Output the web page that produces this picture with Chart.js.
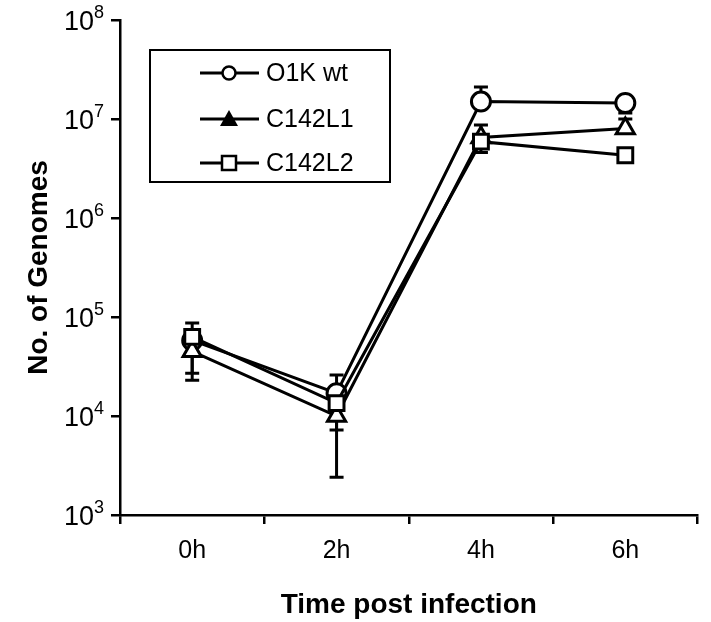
<!DOCTYPE html>
<html>
<head>
<meta charset="utf-8">
<script src="https://cdn.jsdelivr.net/npm/chart.js@4.4.1/dist/chart.umd.min.js"></script>
<style>
  html, body { margin: 0; padding: 0; background: #fff; }
  #wrap { width: 711px; height: 622px; }
</style>
</head>
<body>
<div id="wrap"><canvas id="genomeChart" width="711" height="622"></canvas></div>
<script>
// values
const categories = ['0h', '2h', '4h', '6h'];
const seriesNames = ['O1K wt', 'C142L1', 'C142L2'];

const wtValues = [5.8e4, 1.7e4, 1.5e7, 1.45e7];
const l1Values = [4.5e4, 1.0e4, 6.5e6, 8.0e6];
const l2Values = [6.3e4, 1.35e4, 5.9e6, 4.3e6];

const wtHigh = [null, 2.6e4, 2.1e7, null];
const wtLow = [2.3e4, null, null, 1.15e7];
const l1High = [null, null, 8.7e6, 1.0e7];
const l1Low = [2.7e4, 2.4e3, null, null];
const l2High = [8.7e4, null, null, null];
const l2Low = [null, 7.2e3, 4.6e6, null];

const yTickPowers = [3, 4, 5, 6, 7, 8];

const FONT = '"Liberation Sans", Arial, Helvetica, sans-serif';

function makeDataset(label, values, hi, lo, style, order) {
  return {
    label: label,
    data: values,
    errHigh: hi,
    errLow: lo,
    borderColor: '#000',
    borderWidth: 3,
    pointStyle: style,
    pointRadius: style === 'circle' ? 9.5 : 10.5,
    pointBackgroundColor: '#fff',
    pointBorderColor: '#000',
    pointBorderWidth: 3,
    fill: false,
    tension: 0,
    order: order
  };
}

// error bars are drawn under the markers
const errorBars = {
  id: 'errorBars',
  beforeDatasetsDraw(chart) {
    const ctx = chart.ctx;
    const x = chart.scales.x, y = chart.scales.y;
    ctx.save();
    ctx.strokeStyle = '#000';
    ctx.lineWidth = 3;
    chart.data.datasets.forEach(ds => {
      ds.data.forEach((v, i) => {
        const px = x.getPixelForValue(i);
        const py = y.getPixelForValue(v);
        [ds.errHigh[i], ds.errLow[i]].forEach(e => {
          if (e == null) return;
          const pe = y.getPixelForValue(e);
          ctx.beginPath();
          ctx.moveTo(px, py);
          ctx.lineTo(px, pe);
          ctx.moveTo(px - 7, pe);
          ctx.lineTo(px + 7, pe);
          ctx.stroke();
        });
      });
    });
    ctx.restore();
  }
};

// y tick labels as 10 with a raised exponent
const powerLabels = {
  id: 'powerLabels',
  afterDraw(chart) {
    const ctx = chart.ctx;
    const y = chart.scales.y;
    ctx.save();
    ctx.fillStyle = '#000';
    ctx.textBaseline = 'alphabetic';
    ctx.textAlign = 'right';
    yTickPowers.forEach(p => {
      const py = y.getPixelForValue(Math.pow(10, p));
      const right = 104;
      ctx.font = '18px ' + FONT;
      const ew = ctx.measureText(String(p)).width;
      ctx.fillText(String(p), right, py - 2);
      ctx.font = '27px ' + FONT;
      ctx.fillText('10', right - ew, py + 10);
    });
    ctx.restore();
  }
};

// boxed legend inside the plot, like the original
const boxLegend = {
  id: 'boxLegend',
  afterDraw(chart) {
    const ctx = chart.ctx;
    const left = 150, top = 50, w = 240, h = 132;
    const rows = [73, 119, 163];
    const styles = ['circle', 'triangle', 'rect'];
    ctx.save();
    ctx.fillStyle = '#fff';
    ctx.fillRect(left, top, w, h);
    ctx.strokeStyle = '#000';
    ctx.lineWidth = 2;
    ctx.strokeRect(left, top, w, h);
    rows.forEach((ry, i) => {
      ctx.lineWidth = 3;
      ctx.beginPath();
      ctx.moveTo(200, ry);
      ctx.lineTo(259, ry);
      ctx.stroke();
      ctx.lineWidth = 2.5;
      ctx.beginPath();
      if (styles[i] === 'circle') {
        ctx.arc(229, ry, 6.5, 0, Math.PI * 2);
        ctx.fillStyle = '#fff';
        ctx.fill();
        ctx.stroke();
      } else if (styles[i] === 'triangle') {
        ctx.moveTo(229, ry - 9);
        ctx.lineTo(238, ry + 7);
        ctx.lineTo(220, ry + 7);
        ctx.closePath();
        ctx.fillStyle = '#000';
        ctx.fill();
      } else {
        ctx.rect(222, ry - 7, 14, 14);
        ctx.fillStyle = '#fff';
        ctx.fill();
        ctx.stroke();
      }
      ctx.fillStyle = '#000';
      ctx.font = '25px ' + FONT;
      ctx.textAlign = 'left';
      ctx.textBaseline = 'middle';
      ctx.fillText(seriesNames[i], 266, ry + 1);
    });
    ctx.restore();
  }
};

new Chart(document.getElementById('genomeChart'), {
  type: 'line',
  data: {
    labels: categories,
    datasets: [
      makeDataset(seriesNames[0], wtValues, wtHigh, wtLow, 'circle', 3),
      makeDataset(seriesNames[1], l1Values, l1High, l1Low, 'triangle', 2),
      makeDataset(seriesNames[2], l2Values, l2High, l2Low, 'rect', 1)
    ]
  },
  options: {
    responsive: false,
    animation: false,
    layout: { padding: { top: 20, right: 4, left: 0, bottom: 0 } },
    plugins: {
      legend: { display: false },
      tooltip: { enabled: false }
    },
    scales: {
      x: {
        type: 'category',
        offset: true,
        grid: {
          offset: true,
          drawOnChartArea: false,
          drawTicks: true,
          tickLength: 9,
          color: '#000',
          lineWidth: 2.5
        },
        border: { display: true, color: '#000', width: 2.5 },
        ticks: {
          color: '#000',
          padding: 12,
          font: { family: FONT, size: 25 }
        },
        title: {
          display: true,
          text: 'Time post infection',
          color: '#000',
          padding: { top: 4, bottom: 0 },
          font: { family: FONT, size: 28, weight: 'bold' }
        },
        afterFit(scale) { scale.height = 107; }
      },
      y: {
        type: 'logarithmic',
        min: 1e3,
        max: 1e8,
        afterBuildTicks(scale) {
          scale.ticks = yTickPowers.map(p => ({ value: Math.pow(10, p), major: true }));
        },
        grid: {
          drawOnChartArea: false,
          drawTicks: true,
          tickLength: 9,
          color: '#000',
          lineWidth: 2.5
        },
        border: { display: true, color: '#000', width: 2.5 },
        ticks: {
          color: 'rgba(0,0,0,0)',
          font: { family: FONT, size: 22 },
          callback: v => '10'
        },
        title: {
          display: true,
          text: 'No. of Genomes',
          color: '#000',
          padding: { top: 22, bottom: 0 },
          font: { family: FONT, size: 28, weight: 'bold' }
        },
        afterFit(scale) { scale.width = 120; }
      }
    }
  },
  plugins: [errorBars, powerLabels, boxLegend]
});
</script>
</body>
</html>
